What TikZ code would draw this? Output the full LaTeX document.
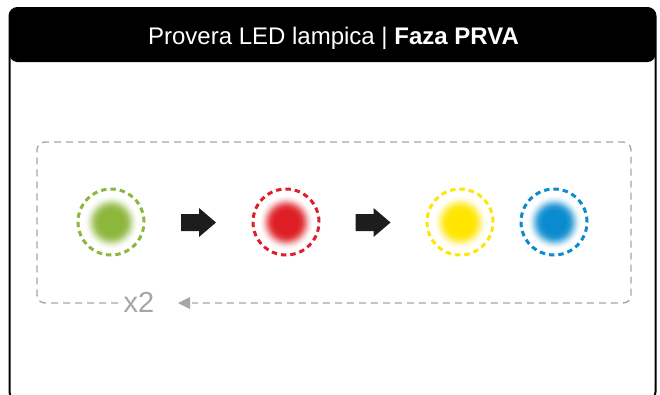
\documentclass[tikz,border=0pt]{standalone}
\usepackage{fontspec}
\setmainfont{Liberation Sans}
\usetikzlibrary{arrows.meta,calc}
\definecolor{ledgreen}{HTML}{8DB63C}
\definecolor{ledred}{HTML}{DE1F26}
\definecolor{ledyellow}{HTML}{FFE500}
\definecolor{ledblue}{HTML}{0B8BCF}
\definecolor{loopgray}{HTML}{A6A6A6}
\definecolor{blk}{HTML}{1D1D1B}
\colorlet{ledc}{ledgreen}
\pgfdeclareradialshading[ledc]{ledglow}{\pgfpoint{0bp}{0bp}}{color(0bp)=(ledc); color(10bp)=(ledc); color(13.5bp)=(ledc!88!white); color(16bp)=(ledc!62!white); color(18.5bp)=(ledc!32!white); color(20.5bp)=(ledc!12!white); color(23bp)=(white); color(50bp)=(white)}
\tikzset{
  ledring/.style={circle, minimum size=66pt, inner sep=0pt, line width=3pt, draw=#1,
     dash pattern=on 5.4pt off 4pt},
  loopline/.style={draw=loopgray, line width=1.4pt, dash pattern=on 7pt off 5pt, rounded corners=8pt},
  blockarrow/.style={fill=blk},
}
\newcommand{\ledglowat}[2]{%
  \colorlet{ledc}{#2}%
  \shade[shading=ledglow] (#1) circle[radius=29pt];}
\newcommand{\blockarrowat}[1]{%
  \fill[blockarrow] ($(#1)+(-17.5,-8.5)$) -- ++(18,0) -- ++(0,-6) -- ++(17,14.5) -- ++(-17,14.5) -- ++(0,-6) -- ++(-18,0) -- cycle;}
\begin{document}
\begin{tikzpicture}[x=1pt,y=-1pt]
\useasboundingbox (0,0) rectangle (660,394);
% header
\fill[black, rounded corners=8pt] (9.5,62) -- (9.5,8) -- (655.5,8) -- (655.5,62) -- cycle;
\draw[black, line width=2pt, rounded corners=8pt] (9.5,62) -- (9.5,400) -- (655.5,400) -- (655.5,8) -- (9.5,8) -- (9.5,62);
\node[text=white, font=\fontsize{24}{28}\selectfont, inner sep=0pt] (title) at (333.5,38)
  {Provera LED lampica | \textbf{Faza PRVA}};
% LEDs
\coordinate (cg) at (111,222);
\coordinate (cr) at (286,222);
\coordinate (cy) at (460,222);
\coordinate (cb) at (554,222);
\ledglowat{cg}{ledgreen}
\ledglowat{cr}{ledred}
\ledglowat{cy}{ledyellow}
\ledglowat{cb}{ledblue}
\node[ledring=ledgreen] (g) at (cg) {};
\node[ledring=ledred] (r) at (cr) {};
\node[ledring=ledyellow] (y) at (cy) {};
\node[ledring=ledblue] (b) at (cb) {};
% block arrows
\coordinate (a1) at (198.5,222.5);
\coordinate (a2) at (373,222.5);
\blockarrowat{a1}
\blockarrowat{a2}
% loop
\node[text=loopgray, font=\fontsize{29}{32}\selectfont, inner sep=0pt] (x2) at (139,302) {x2};
\coordinate (tip) at (178,303);
\draw[loopline] (118,303) -- (37,303) -- (37,142) -- (631,142) -- (631,303) -- (192,303);
\fill[loopgray] (tip) -- ++(12,-6) -- ++(0,12) -- cycle;
\end{tikzpicture}
\end{document}
